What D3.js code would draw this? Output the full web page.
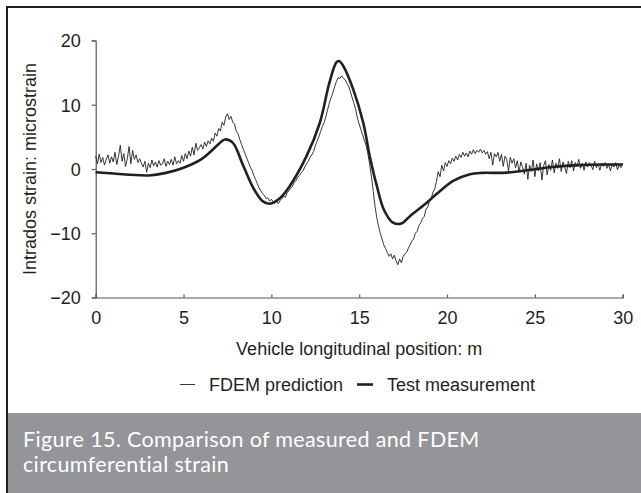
<!DOCTYPE html>
<html><head><meta charset="utf-8">
<script src="https://cdn.jsdelivr.net/npm/d3@7"></script>
<style>
html,body{margin:0;padding:0;background:#fff;}
svg{display:block;}
</style></head>
<body>
<svg id="chart" width="641" height="493"></svg>
<script>
// ---- data ----
const xTicks = [0, 5, 10, 15, 20, 25, 30];
const yTicks = [-20, -10, 0, 10, 20];
const seriesNames = ["FDEM prediction", "Test measurement"];
// FDEM prediction sampled every 0.1 m from 0 to 30 m
const fdemStart = 0, fdemStep = 0.1;
const fdemValues = [
 2.0, 0.8, 2.3, 1.0, 1.8, 0.6, 1.5, 2.2, 0.9, 1.9,
 1.1, 2.6, 0.7, 2.0, 3.7, 1.2, 2.4, 0.4, 1.6, 3.5,
 0.8, 2.9, 1.5, 2.2, 1.0, 1.6, 0.9, 0.3, 1.2, -0.5,
 0.9, 0.2, 1.4, 0.5, 1.1, 0.3, 1.3, 0.6, 0.8, 1.6,
 0.4, 1.2, 0.7, 1.5, 0.6, 1.9, 0.8, 1.3, 0.9, 2.1,
 1.2, 2.4, 1.6, 2.8, 2.0, 3.4, 2.2, 4.0, 2.9, 3.3,
 3.8, 3.1, 4.2, 3.5, 4.4, 3.9, 4.8, 4.3, 5.6, 5.1,
 6.3, 5.9, 7.3, 6.8, 8.1, 8.6, 7.7, 8.2, 7.3, 7.0,
 5.9, 5.5, 4.6, 3.8, 3.1, 2.4, 1.7, 1.0, 0.3, -0.2,
 -1.0, -1.6, -2.3, -2.9, -3.4, -3.8, -4.1, -4.6, -4.5, -5.0,
 -4.7, -5.1, -5.3, -5.0, -5.4, -4.9, -4.6, -4.2, -4.4, -3.7,
 -3.4, -3.0, -2.7, -2.1, -1.8, -1.3, -1.0, -0.6, -0.3, 0.3,
 0.8, 1.2, 1.8, 2.2, 2.7, 3.6, 4.3, 5.0, 5.8, 6.6,
 7.2, 8.1, 9.2, 10.3, 11.1, 11.9, 12.8, 13.6, 14.2, 14.1,
 14.5, 14.1, 13.9, 13.3, 12.9, 12.0, 11.1, 10.2, 9.3, 7.9,
 7.0, 6.1, 5.3, 4.4, 3.6, 2.3, 0.6, -1.2, -3.5, -5.8,
 -7.6, -8.9, -10.0, -10.9, -11.8, -12.4, -13.0, -13.6, -13.2, -14.0,
 -13.4, -14.3, -14.9, -14.0, -14.6, -13.6, -13.2, -13.0, -12.3, -11.8,
 -11.2, -10.9, -10.0, -9.7, -8.8, -8.4, -7.7, -7.4, -6.3, -5.9,
 -5.0, -4.6, -3.6, -3.1, -1.9, -0.4, -1.2, 0.6, -0.3, 1.0,
 0.4, 1.3, 0.8, 1.7, 1.2, 2.0, 1.4, 2.3, 1.8, 2.6,
 2.0, 2.5, 1.9, 2.8, 2.3, 3.0, 2.4, 2.9, 2.6, 3.1,
 2.5, 2.9, 2.3, 2.7, 1.6, 2.6, 0.6, 2.4, 1.9, 2.6,
 1.2, 2.3, 0.4, 2.0, 1.5, -0.3, 1.8, 0.9, 1.6, 0.2,
 1.3, -0.5, 1.1, 0.3, -0.8, 0.9, -1.6, 0.6, -0.4, 1.4,
 -1.2, 0.8, -0.3, 1.0, -1.7, 0.5, 1.3, -0.9, 0.7, -0.2,
 1.4, -0.6, 0.9, 0.1, 1.6, -0.4, 1.1, 0.3, -0.7, 1.2,
 0.2, 1.3, -0.3, 1.0, 0.4, 1.5, 0.1, 0.9, -0.2, 1.1,
 0.3, 1.0, 0.6, -0.1, 1.2, 0.2, 0.8, -0.2, 0.9, 0.4,
 1.0, 0.1, 0.7, -0.3, 0.8, 0.3, 1.0, -0.1, 0.6, 0.2,
 0.9
];
// Test measurement (smooth curve)
const testX = [0, 1, 2, 3, 4, 5, 6, 6.5, 7, 7.35, 7.8, 8.4, 9, 9.5, 9.9, 10.5, 11.06, 12, 12.76, 13.3, 13.7, 13.85, 14.1, 14.66, 15.23, 15.6, 16, 16.4, 16.9, 17.4, 17.9, 18.65, 19.4, 20.35, 21.3, 22, 23.2, 24, 25.1, 26, 27.5, 29, 30];
const testY = [-0.5, -0.7, -0.9, -1.0, -0.6, 0.2, 1.5, 2.6, 3.9, 4.6, 4.1, 0.5, -3.1, -5.0, -5.4, -4.5, -2.6, 2.0, 7.2, 13.4, 16.6, 16.8, 16.0, 12.4, 7.2, 2.0, -2.6, -6.3, -8.3, -8.5, -7.3, -5.7, -3.9, -1.85, -0.8, -0.6, -0.6, -0.4, 0.0, 0.3, 0.6, 0.7, 0.7];
const captionLines = ["Figure 15. Comparison of measured and FDEM", "circumferential strain"];
const xTitle = "Vehicle longitudinal position: m";
const yTitle = "Intrados strain: microstrain";

// ---- drawing ----
const ink = "#231f20";
const svg = d3.select("#chart");
const font = "'Liberation Sans', Arial, sans-serif";

// frame
svg.append("line").attr("x1", 7).attr("x2", 641).attr("y1", 7).attr("y2", 7).attr("stroke", ink).attr("stroke-width", 2);
svg.append("line").attr("x1", 7).attr("x2", 7).attr("y1", 6).attr("y2", 493).attr("stroke", ink).attr("stroke-width", 2);
// caption band
svg.append("rect").attr("x", 8).attr("y", 413).attr("width", 633).attr("height", 80).attr("fill", "#939598");
const cap = svg.append("text").attr("fill", "#ffffff").attr("font-family", "Lato, 'Open Sans', sans-serif")
  .attr("font-size", 21.5).attr("letter-spacing", 0.35);
captionLines.forEach((t, i) => {
  cap.append("tspan").attr("x", 23).attr("y", 447 + i * 25).text(t);
});

const x = d3.scaleLinear().domain([0, 30]).range([95.7, 622.7]);
const y = d3.scaleLinear().domain([-20, 20]).range([297.5, 40.5]);

const gx = svg.append("g").attr("transform", `translate(0,${y(-20)})`)
  .call(d3.axisBottom(x).tickValues(xTicks).tickSize(-3).tickPadding(14).tickFormat(d3.format("d")));
const gy = svg.append("g").attr("transform", `translate(${x(0)},0)`)
  .call(d3.axisLeft(y).tickValues(yTicks).tickSize(4).tickPadding(11).tickFormat(d3.format("d")));
[gx, gy].forEach(g => {
  g.select(".domain").attr("stroke", "#555").attr("stroke-width", 1.2);
  g.selectAll(".tick line").attr("stroke", "#555").attr("stroke-width", 1.2);
  g.selectAll(".tick text").attr("fill", ink).attr("font-family", font).attr("font-size", 18);
});
gy.selectAll(".tick text").attr("dy", "0.36em");

svg.append("text").attr("x", x(15)).attr("y", 355).attr("text-anchor", "middle")
  .attr("font-family", font).attr("font-size", 18).attr("fill", ink).text(xTitle);
svg.append("text").attr("transform", `translate(36,${y(0)}) rotate(-90)`).attr("text-anchor", "middle")
  .attr("font-family", font).attr("font-size", 18).attr("fill", ink).text(yTitle);

// series
const fdemData = fdemValues.map((v, i) => [fdemStart + i * fdemStep, v]);
const testData = testX.map((v, i) => [v, testY[i]]);
const line = d3.line().x(d => x(d[0])).y(d => y(d[1]));
svg.append("path").datum(fdemData).attr("d", line).attr("fill", "none")
  .attr("stroke", ink).attr("stroke-width", 0.9).attr("stroke-linejoin", "round");
svg.append("path").datum(testData).attr("d", line.curve(d3.curveCatmullRom.alpha(0.5))).attr("fill", "none")
  .attr("stroke", ink).attr("stroke-width", 2.6).attr("stroke-linejoin", "round");

// legend
const lg = svg.append("g");
lg.append("line").attr("x1", 180).attr("x2", 195).attr("y1", 384.5).attr("y2", 384.5).attr("stroke", ink).attr("stroke-width", 0.9);
lg.append("text").attr("x", 209).attr("y", 391).attr("font-family", font).attr("font-size", 18).attr("fill", ink).text(seriesNames[0]);
lg.append("line").attr("x1", 357).attr("x2", 373).attr("y1", 384.5).attr("y2", 384.5).attr("stroke", ink).attr("stroke-width", 2.6);
lg.append("text").attr("x", 387).attr("y", 391).attr("font-family", font).attr("font-size", 18).attr("fill", ink).text(seriesNames[1]);
</script>
</body></html>
